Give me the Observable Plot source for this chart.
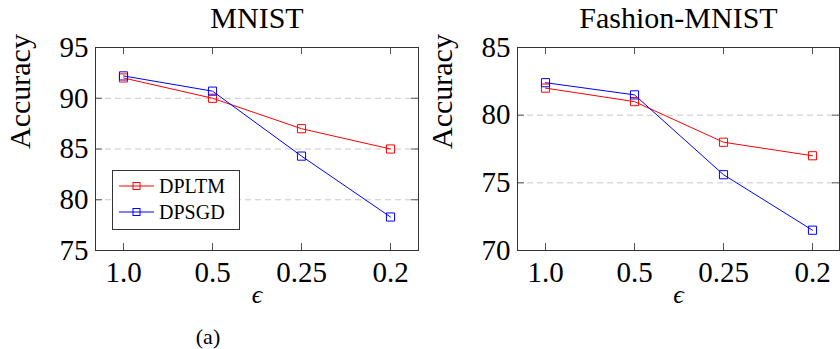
<!DOCTYPE html>
<html>
<head>
<meta charset="utf-8">
<script src="https://cdn.jsdelivr.net/npm/d3@7"></script>
<script src="https://cdn.jsdelivr.net/npm/@observablehq/plot@0.6"></script>
<style>
  html, body { margin: 0; padding: 0; background: #fff; }
  #wrap { position: relative; width: 840px; height: 349px; overflow: hidden; }
  #wrap > .panel { position: absolute; top: 0; }
  #wrap svg text { font-family: 'Liberation Serif', 'Times New Roman', 'DejaVu Serif', serif !important; }
  #legend { position: absolute; left: 0; top: 0; pointer-events: none; }
</style>
</head>
<body>
<div id="wrap"></div>
<script>
const epsilons = ["1.0", "0.5", "0.25", "0.2"];
const methods = ["DPLTM", "DPSGD"];
const colors = ["#ff0000", "#0000ff"];

const mnistDPLTM = [92.0, 90.0, 87.0, 85.0];
const mnistDPSGD = [92.2, 90.7, 84.3, 78.3];
const fashionDPLTM = [82.0, 81.0, 78.0, 77.0];
const fashionDPSGD = [82.4, 81.5, 75.6, 71.5];

const mnistTicks = [75, 80, 85, 90, 95];
const fashionTicks = [70, 75, 80, 85];

const serif = "'Liberation Serif', 'Times New Roman', 'DejaVu Serif', serif";
const W = 420, H = 349, MT = 47, MB = 99;

function panel({title, yTicks, dpltm, dpsgd, marginLeft, marginRight, caption}) {
  const rows = epsilons.flatMap((e, i) => [
    {eps: e, acc: dpltm[i], method: methods[0]},
    {eps: e, acc: dpsgd[i], method: methods[1]}
  ]);
  const grid = yTicks.slice(1, -1);
  const fw = W - marginLeft - marginRight;
  const fh = H - MT - MB;
  const tk = 7;
  const marks = [
    Plot.ruleY(grid, {y: d => d, stroke: "#c8c8c8", strokeDasharray: "6,4", strokeWidth: 1}),
    Plot.tickX(epsilons, {x: d => d, insetBottom: fh - tk, stroke: "#555", strokeWidth: 1}),
    Plot.tickX(epsilons, {x: d => d, insetTop: fh - tk, stroke: "#555", strokeWidth: 1}),
    Plot.tickY(grid, {y: d => d, insetRight: fw - tk, stroke: "#555", strokeWidth: 1}),
    Plot.tickY(grid, {y: d => d, insetLeft: fw - tk, stroke: "#555", strokeWidth: 1}),
    Plot.frame({stroke: "#333", strokeWidth: 1}),
    Plot.axisX({tickSize: 0, tickPadding: 11, fontSize: 29, fontFamily: serif, label: null}),
    Plot.axisY({ticks: yTicks, tickSize: 0, tickPadding: 7, fontSize: 29, fontFamily: serif, label: null}),
    Plot.line(rows, {x: "eps", y: "acc", stroke: "method", strokeWidth: 1}),
    Plot.dot(rows, {x: "eps", y: "acc", stroke: "method", symbol: "square", r: 4.6, strokeWidth: 1, fill: "none"}),
    Plot.text([title], {frameAnchor: "top", lineAnchor: "middle", dy: -29.6, fontSize: 30, fontFamily: serif, fill: "#000"}),
    Plot.text(["Accuracy"], {frameAnchor: "left", lineAnchor: "middle", dx: -75, rotate: -90, fontSize: 30, fontFamily: serif, fill: "#000"}),
    Plot.text(["\u03F5"], {frameAnchor: "bottom", lineAnchor: "middle", dy: 43.7, fontSize: 26, fontFamily: serif, fontStyle: "italic", fill: "#000"})
  ];
  if (caption) {
    marks.push(Plot.text([caption], {frameAnchor: "bottom", lineAnchor: "middle", dx: -49, dy: 86, fontSize: 22, fontFamily: serif, fill: "#000"}));
  }
  return Plot.plot({
    width: W, height: H,
    marginTop: MT, marginBottom: MB, marginLeft, marginRight,
    style: {fontFamily: serif, background: "transparent", overflow: "visible", color: "#000"},
    x: {type: "point", domain: epsilons, padding: 0.3},
    y: {domain: [yTicks[0], yTicks[yTicks.length - 1]]},
    color: {domain: methods, range: colors},
    marks
  });
}

const wrap = document.getElementById("wrap");
const left = panel({title: "MNIST", yTicks: mnistTicks, dpltm: mnistDPLTM, dpsgd: mnistDPSGD, marginLeft: 95, marginRight: 2, caption: "(a)"});
left.classList.add("panel");
left.style.left = "0px";
wrap.appendChild(left);

const right = panel({title: "Fashion-MNIST", yTicks: fashionTicks, dpltm: fashionDPLTM, dpsgd: fashionDPSGD, marginLeft: 97, marginRight: 1});
right.classList.add("panel");
right.style.left = "420px";
wrap.appendChild(right);

// Legend (left panel)
const lg = d3.select(wrap).append("svg").attr("id", "legend").attr("width", 420).attr("height", 349);
const box = {x: 112, y: 170, w: 127, h: 59};
lg.append("rect").attr("x", box.x + 0.5).attr("y", box.y + 0.5).attr("width", box.w).attr("height", box.h)
  .attr("fill", "#fff").attr("stroke", "#333").attr("stroke-width", 1);
methods.forEach((m, i) => {
  const cy = box.y + 16 + i * 26;
  const g = lg.append("g");
  g.append("line").attr("x1", box.x + 7).attr("x2", box.x + 42).attr("y1", cy).attr("y2", cy)
    .attr("stroke", colors[i]).attr("stroke-width", 1);
  g.append("rect").attr("x", box.x + 24.5 - 3.5).attr("y", cy - 3.5).attr("width", 7).attr("height", 7)
    .attr("fill", "none").attr("stroke", colors[i]).attr("stroke-width", 1);
  g.append("text").attr("x", box.x + 47).attr("y", cy + 7).attr("font-family", serif).attr("font-size", 20)
    .attr("fill", "#000").text(m);
});
</script>
</body>
</html>
